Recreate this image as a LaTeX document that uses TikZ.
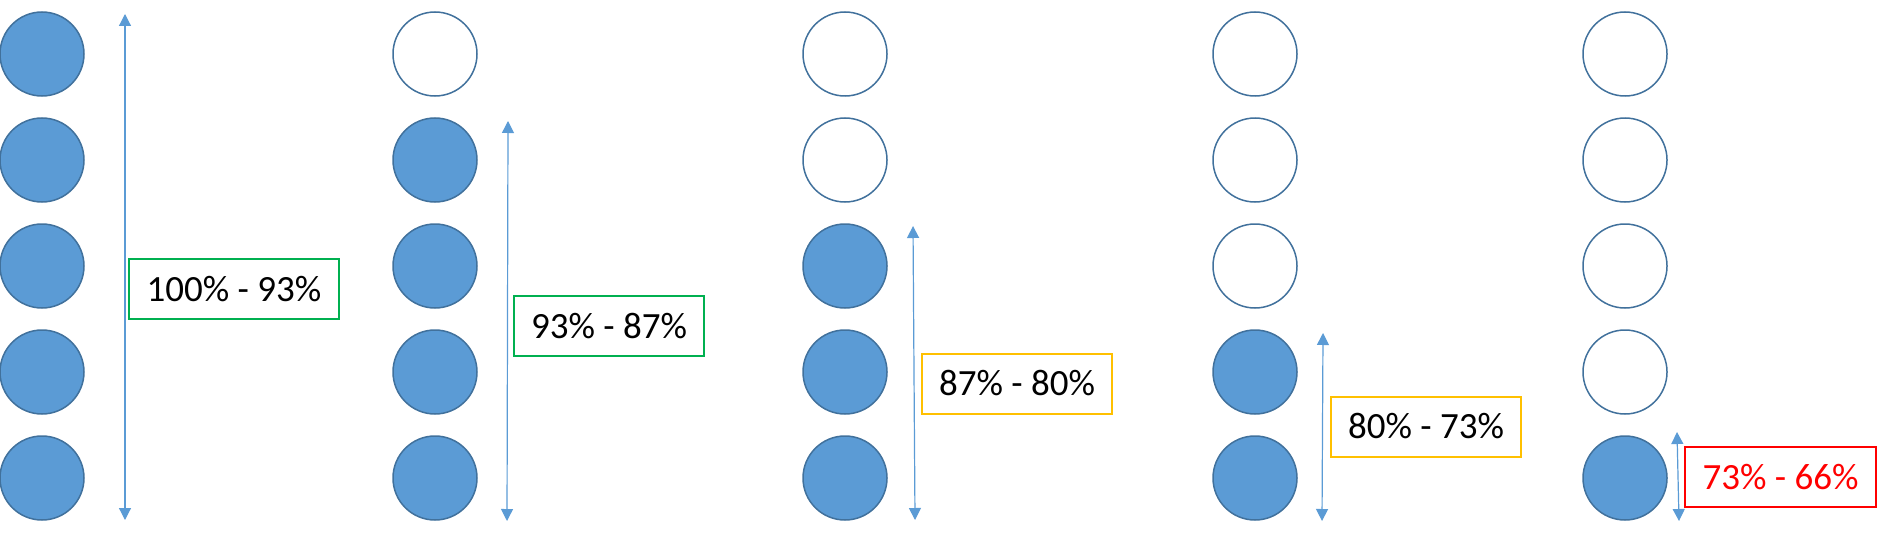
\documentclass[tikz,border=0pt]{standalone}
\usepackage{fontspec}
\setmainfont{Carlito}
\usepackage{tikz}
\usetikzlibrary{arrows.meta}

\definecolor{dotblue}{HTML}{5B9BD5}
\definecolor{dotedge}{HTML}{41719C}
\definecolor{goodgreen}{HTML}{00B050}
\definecolor{okgold}{HTML}{FFC000}
\definecolor{badred}{HTML}{FF0000}

\begin{document}
\begin{tikzpicture}[x=0.5pt, y=-0.5pt,
    dotfull/.style = {circle, draw = dotedge, fill = dotblue, line width = 0.75pt, minimum size = 42pt, inner sep = 0pt},
    dotempty/.style = {circle, draw = dotedge, fill = white, line width = 0.75pt, minimum size = 42pt, inner sep = 0pt},
    spanarrow/.style = {draw = dotblue, line width = 0.6pt, {Triangle[width=6pt, length=6pt]}-{Triangle[width=6pt, length=6pt]}},
    rangebox/.style = {draw, line width = 1pt, minimum height = 30pt, inner sep = 0pt, font = \fontsize{18.5}{22}\selectfont}]
    \useasboundingbox (0, 0) rectangle (1882, 535);

    % draw first column
    \node[dotfull] (a1) at (42, 54) {};
    \node[dotfull] (a2) at (42, 160) {};
    \node[dotfull] (a3) at (42, 266) {};
    \node[dotfull] (a4) at (42, 372) {};
    \node[dotfull] (a5) at (42, 478) {};

    % draw second column
    \node[dotempty] (b1) at (435, 54) {};
    \node[dotfull] (b2) at (435, 160) {};
    \node[dotfull] (b3) at (435, 266) {};
    \node[dotfull] (b4) at (435, 372) {};
    \node[dotfull] (b5) at (435, 478) {};

    % draw third column
    \node[dotempty] (c1) at (845, 54) {};
    \node[dotempty] (c2) at (845, 160) {};
    \node[dotfull] (c3) at (845, 266) {};
    \node[dotfull] (c4) at (845, 372) {};
    \node[dotfull] (c5) at (845, 478) {};

    % draw fourth column
    \node[dotempty] (d1) at (1255, 54) {};
    \node[dotempty] (d2) at (1255, 160) {};
    \node[dotempty] (d3) at (1255, 266) {};
    \node[dotfull] (d4) at (1255, 372) {};
    \node[dotfull] (d5) at (1255, 478) {};

    % draw fifth column
    \node[dotempty] (e1) at (1625, 54) {};
    \node[dotempty] (e2) at (1625, 160) {};
    \node[dotempty] (e3) at (1625, 266) {};
    \node[dotempty] (e4) at (1625, 372) {};
    \node[dotfull] (e5) at (1625, 478) {};

    % draw span arrows
    \coordinate (atop) at (125, 14);
    \coordinate (abot) at (125, 520);
    \draw[spanarrow] (atop) -- (abot);

    \coordinate (btop) at (508, 121);
    \coordinate (bbot) at (507, 521);
    \draw[spanarrow] (btop) -- (bbot);

    \coordinate (ctop) at (913, 226);
    \coordinate (cbot) at (915, 520);
    \draw[spanarrow] (ctop) -- (cbot);

    \coordinate (dtop) at (1323, 333);
    \coordinate (dbot) at (1322, 521);
    \draw[spanarrow] (dtop) -- (dbot);

    \coordinate (etop) at (1677, 432);
    \coordinate (ebot) at (1679, 521);
    \draw[spanarrow] (etop) -- (ebot);

    % draw range boxes
    \node[rangebox, draw = goodgreen, minimum width = 105pt] (alabel) at (234, 289) {100\% - 93\%};
    \node[rangebox, draw = goodgreen, minimum width = 95pt] (blabel) at (609, 326) {93\% - 87\%};
    \node[rangebox, draw = okgold, minimum width = 95pt] (clabel) at (1017, 383.5) {87\% - 80\%};
    \node[rangebox, draw = okgold, minimum width = 95pt] (dlabel) at (1426, 426.5) {80\% - 73\%};
    \node[rangebox, draw = badred, text = badred, minimum width = 95.5pt] (elabel) at (1780.5, 477) {73\% - 66\%};

\end{tikzpicture}
\end{document}
